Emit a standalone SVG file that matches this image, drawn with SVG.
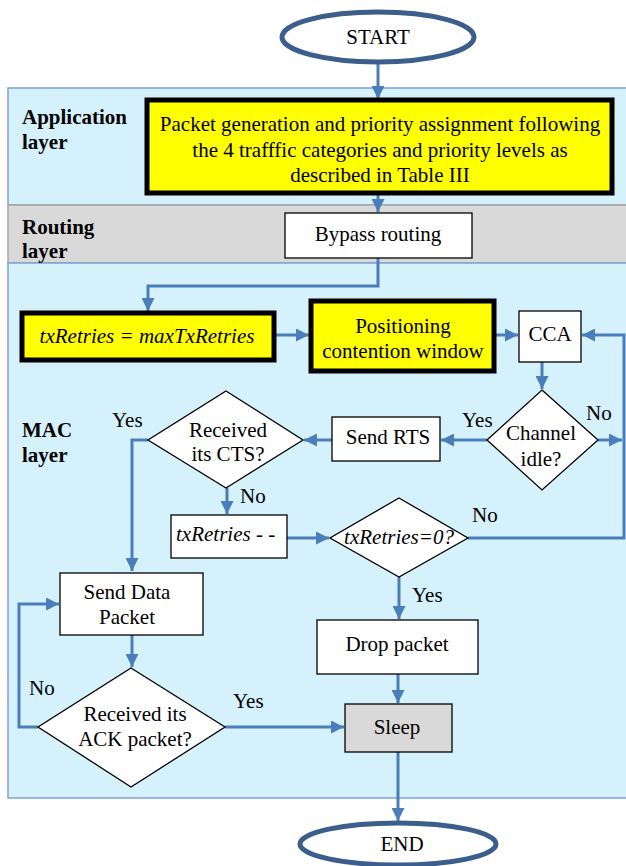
<svg xmlns="http://www.w3.org/2000/svg" width="626" height="866" viewBox="0 0 626 866">
<defs>
<marker id="ah" markerUnits="userSpaceOnUse" markerWidth="13" markerHeight="13" viewBox="0 0 13 13" refX="13" refY="6.5" orient="auto">
<path d="M0,0 L13,6.5 L0,13 z" fill="#4A7EBB"/>
</marker>
</defs>
<style>
text{font-family:"Liberation Serif",serif !important;font-size:21px}
.c{text-anchor:middle}
.b{font-weight:bold}
.i{font-style:italic}
.band{fill:#D5F1FC;stroke:#7EA3D3;stroke-width:1.5}
.grey{fill:#D9D9D9;stroke:#A6A6A6;stroke-width:1.5}
.box{fill:#fff;stroke:#000;stroke-width:1.3}
.ybox{fill:#FFFF00;stroke:#000;stroke-width:5}
.term{fill:#fff;stroke:#3B5E8C;stroke-width:5}
.conn path{fill:none;stroke:#4A7EBB;stroke-width:3}
</style>
<rect width="626" height="866" fill="#fff"/>
<g id="bands">
<rect class="band" x="8" y="88" width="630" height="117"/>
<rect class="grey" x="8" y="205" width="630" height="58"/>
<rect class="band" x="8" y="263" width="630" height="535"/>
<text font-family="Liberation Serif" class="b" x="22" y="124">Application</text>
<text font-family="Liberation Serif" class="b" x="22" y="149">layer</text>
<text font-family="Liberation Serif" class="b" x="22" y="234">Routing</text>
<text font-family="Liberation Serif" class="b" x="22" y="258">layer</text>
<text font-family="Liberation Serif" class="b" x="22" y="437">MAC</text>
<text font-family="Liberation Serif" class="b" x="22" y="462">layer</text>
</g>
<g class="conn" id="connectors">
<path d="M378,64 V99" marker-end="url(#ah)"/>
<path d="M378,195 V212" marker-end="url(#ah)"/>
<path d="M378,258 V286 H148 V311" marker-end="url(#ah)"/>
<path d="M275,335 H309" marker-end="url(#ah)"/>
<path d="M495,335 H518" marker-end="url(#ah)"/>
<path d="M542,362 V389" marker-end="url(#ah)"/>
<path d="M598,440 H622" marker-end="url(#ah)"/>
<path d="M468,538 H624 V335 H582" marker-end="url(#ah)"/>
<path d="M487,440 H441" marker-end="url(#ah)"/>
<path d="M332,440 H304" marker-end="url(#ah)"/>
<path d="M148,440 H132 V571" marker-end="url(#ah)"/>
<path d="M227,488 V514" marker-end="url(#ah)"/>
<path d="M287,538 H329" marker-end="url(#ah)"/>
<path d="M399,577 V619" marker-end="url(#ah)"/>
<path d="M398,674 V703" marker-end="url(#ah)"/>
<path d="M132,635 V667" marker-end="url(#ah)"/>
<path d="M38,727 H19 V604 H59" marker-end="url(#ah)"/>
<path d="M225,727 H344" marker-end="url(#ah)"/>
<path d="M398,752 V821" marker-end="url(#ah)"/>
</g>
<g id="labels">
<text font-family="Liberation Serif" x="586" y="420">No</text>
<text font-family="Liberation Serif" x="462" y="427">Yes</text>
<text font-family="Liberation Serif" x="112" y="427">Yes</text>
<text font-family="Liberation Serif" x="240" y="503">No</text>
<text font-family="Liberation Serif" x="472" y="522">No</text>
<text font-family="Liberation Serif" x="412" y="602">Yes</text>
<text font-family="Liberation Serif" x="29" y="695">No</text>
<text font-family="Liberation Serif" x="233" y="708">Yes</text>
</g>
<g id="start"><ellipse class="term" cx="378" cy="37" rx="96" ry="25"/><text font-family="Liberation Serif" class="c" x="378" y="44">START</text></g>
<g id="app"><rect class="ybox" x="147" y="100" width="465" height="93"/>
<text font-family="Liberation Serif" class="c" x="380" y="131">Packet generation and priority assignment following</text>
<text font-family="Liberation Serif" class="c" x="380" y="157">the 4 trafffic categories and priority levels as</text>
<text font-family="Liberation Serif" class="c" x="380" y="182">described in Table III</text></g>
<g id="bypass"><rect class="box" x="285" y="213" width="187" height="45"/><text font-family="Liberation Serif" class="c" x="378" y="241">Bypass routing</text></g>
<g id="init"><rect class="ybox" x="22" y="313" width="252" height="47"/><text font-family="Liberation Serif" class="c i" x="147" y="343">txRetries = maxTxRetries</text></g>
<g id="cw"><rect class="ybox" x="311" y="301" width="183" height="70"/><text font-family="Liberation Serif" class="c" x="403" y="333">Positioning</text><text font-family="Liberation Serif" class="c" x="403" y="358">contention window</text></g>
<g id="cca"><rect class="box" x="519" y="311" width="62" height="51"/><text font-family="Liberation Serif" class="c" x="550" y="341">CCA</text></g>
<g id="idle"><polygon class="box" points="542,390 598,440 542,490 487,440"/><text font-family="Liberation Serif" class="c" x="541" y="440">Channel</text><text font-family="Liberation Serif" class="c" x="541" y="466">idle?</text></g>
<g id="rts"><rect class="box" x="332" y="417" width="108" height="44"/><text font-family="Liberation Serif" class="c" x="388" y="444">Send RTS</text></g>
<g id="cts"><polygon class="box" points="226,391 303,440 226,488 148,440"/><text font-family="Liberation Serif" class="c" x="228" y="437">Received</text><text font-family="Liberation Serif" class="c" x="228" y="461">its CTS?</text></g>
<g id="dec"><rect class="box" x="171" y="515" width="116" height="43"/><text font-family="Liberation Serif" class="i" x="176" y="541">txRetries - -</text></g>
<g id="zero"><polygon class="box" points="399,498 468,538 399,577 330,538"/><text font-family="Liberation Serif" class="c i" x="399" y="544">txRetries=0?</text></g>
<g id="data"><rect class="box" x="60" y="573" width="143" height="62"/><text font-family="Liberation Serif" class="c" x="127" y="599">Send Data</text><text font-family="Liberation Serif" class="c" x="127" y="624">Packet</text></g>
<g id="ack"><polygon class="box" points="131,668 225,727 131,787 38,727"/><text font-family="Liberation Serif" class="c" x="135" y="721">Received its</text><text font-family="Liberation Serif" class="c" x="135" y="746">ACK packet?</text></g>
<g id="drop"><rect class="box" x="317" y="620" width="161" height="54"/><text font-family="Liberation Serif" class="c" x="397" y="651">Drop packet</text></g>
<g id="sleep"><rect x="345" y="704" width="107" height="48" fill="#D9D9D9" stroke="#000" stroke-width="1.3"/><text font-family="Liberation Serif" class="c" x="397" y="734">Sleep</text></g>
<g id="end"><ellipse class="term" cx="398" cy="844" rx="98" ry="21"/><text font-family="Liberation Serif" class="c" x="402" y="851">END</text></g>
</svg>
